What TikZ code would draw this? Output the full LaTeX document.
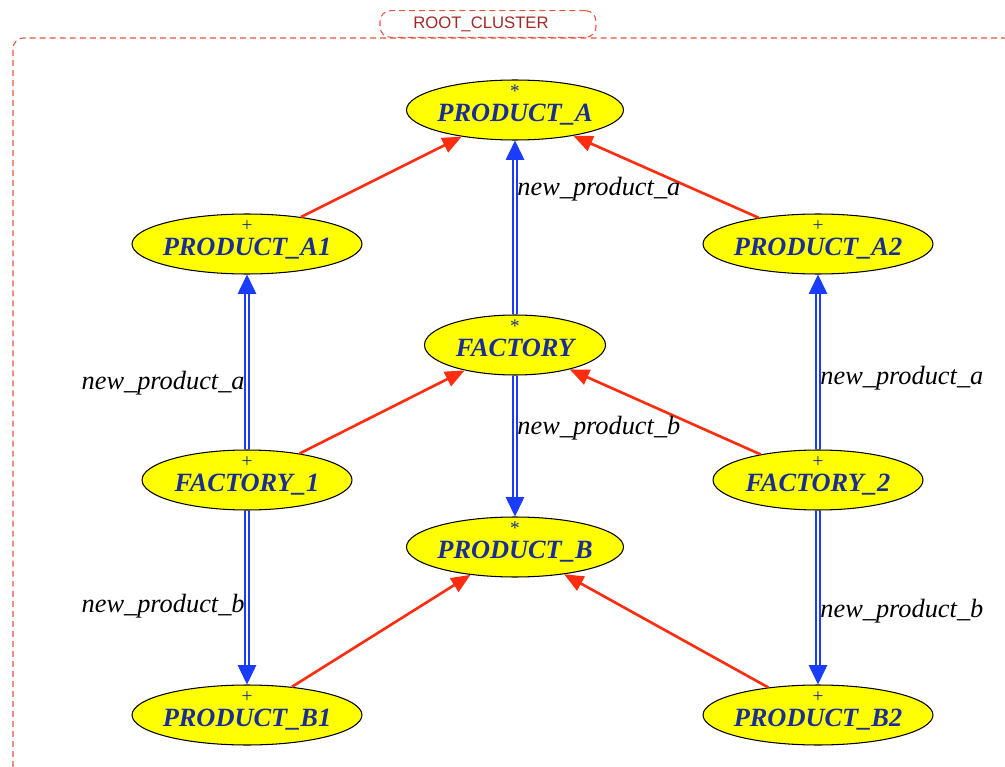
\documentclass[tikz,border=0pt]{standalone}
\usepackage{fontspec}
\setmainfont{Liberation Serif}
\newfontfamily\clusterfont{Liberation Sans}
\usetikzlibrary{shapes.geometric,arrows.meta}

\definecolor{clsyellow}{RGB}{255,255,0}
\definecolor{clsnavy}{RGB}{25,45,150}
\definecolor{inheritred}{RGB}{255,45,15}
\definecolor{clientblue}{RGB}{25,60,255}
\definecolor{clusterred}{RGB}{228,85,65}
\definecolor{clustertext}{RGB}{160,40,40}

\tikzset{
  cls/.style={ellipse, draw=black, line width=0.6pt, fill=clsyellow,
    inner xsep=-20pt, inner ysep=0pt, minimum height=1.2cm, text=clsnavy,
    font=\fontsize{15}{18}\selectfont\bfseries\itshape,
    text height=13pt, text depth=0pt},
  mk/.style={label={[anchor=center, yshift=-8.7pt, inner sep=0pt,
    text height=0.8ex, text depth=0pt,
    text=clsnavy, font=\fontsize{11}{11}\selectfont]north:#1}},
  inherit/.style={draw=inheritred, line width=1.5pt,
    -{Triangle[length=11pt,width=9pt]}},
  client/.style={draw=clientblue, double=white, double distance=1.6pt,
    line width=0.7pt, -{Triangle[length=11pt,width=10.5pt]}},
  feat/.style={font=\fontsize{15}{18}\selectfont\itshape, inner sep=1pt},
  cluster/.style={draw=clusterred, line width=0.6pt,
    dash pattern=on 3.4pt off 2.3pt, rounded corners=6pt},
}

\begin{document}
\begin{tikzpicture}[x=0.02cm, y=-0.02cm]
\useasboundingbox (0,0) rectangle (1005,767);

% cluster frame
\draw[cluster] (13,767) -- (13,38) -- (1005,38);
\node[cluster, draw, minimum width=4.32cm, minimum height=0.48cm,
  text=clustertext, font=\clusterfont\fontsize{9.5}{11}\selectfont]
  (root) at (488,24) {ROOT\_CLUSTER\kern8pt};

% classes
\node[cls, mk=*, minimum width=4.34cm] (pa) at (515,110) {PRODUCT\_A};
\node[cls, mk=+, minimum width=4.6cm] (pa1) at (247,244) {PRODUCT\_A1};
\node[cls, mk=+, minimum width=4.6cm] (pa2) at (818,244) {PRODUCT\_A2};
\node[cls, mk=*, minimum width=3.62cm] (f) at (515,345) {FACTORY};
\node[cls, mk=+, minimum width=4.2cm] (f1) at (247,480) {FACTORY\_1};
\node[cls, mk=+, minimum width=4.2cm] (f2) at (818,480) {FACTORY\_2};
\node[cls, mk=*, minimum width=4.34cm] (pb) at (515,547) {PRODUCT\_B};
\node[cls, mk=+, minimum width=4.6cm] (pb1) at (247,715) {PRODUCT\_B1};
\node[cls, mk=+, minimum width=4.6cm] (pb2) at (818,715) {PRODUCT\_B2};

% inheritance
\draw[inherit] (pa1) -- (pa);
\draw[inherit] (pa2) -- (pa);
\draw[inherit] (f1) -- (f);
\draw[inherit] (f2) -- (f);
\draw[inherit] (pb1) -- (pb);
\draw[inherit] (pb2) -- (pb);

% client links
\draw[client] (f) -- node[feat, pos=0.72, anchor=west] {new\_product\_a} (pa);
\draw[client] (f) -- node[feat, pos=0.37, anchor=west] {new\_product\_b} (pb);
\draw[client] (f1) -- node[feat, pos=0.38, anchor=east] {new\_product\_a} (pa1);
\draw[client] (f1) -- node[feat, pos=0.55, anchor=east] {new\_product\_b} (pb1);
\draw[client] (f2) -- node[feat, pos=0.41, anchor=west] {new\_product\_a} (pa2);
\draw[client] (f2) -- node[feat, pos=0.58, anchor=west] {new\_product\_b} (pb2);
\end{tikzpicture}
\end{document}
